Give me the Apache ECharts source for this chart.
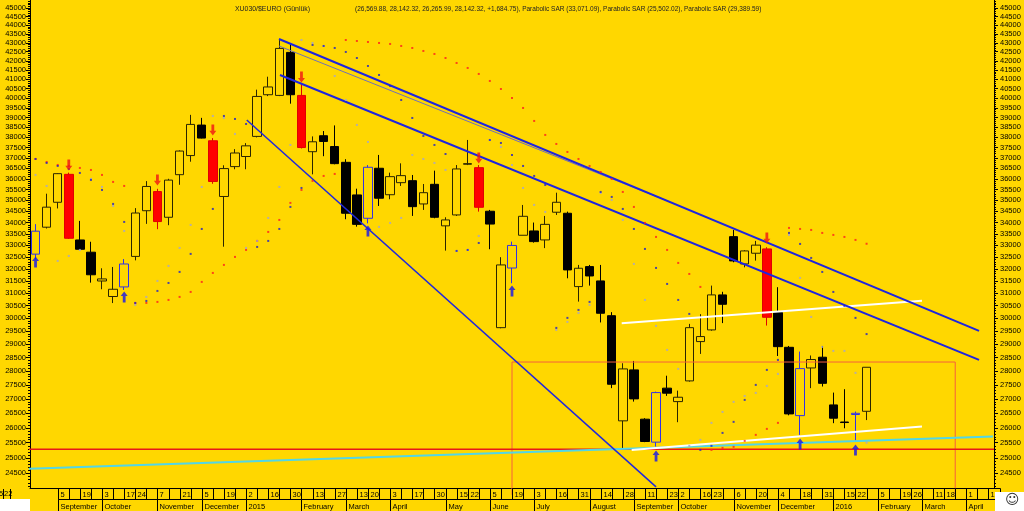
<!DOCTYPE html>
<html><head><meta charset="utf-8">
<script src="https://cdn.jsdelivr.net/npm/echarts@6/dist/echarts.min.js"></script>
<style>html,body{margin:0;padding:0;background:#FFD700;}#c{width:1024px;height:511px;}</style>
</head><body><div id="c"></div>
<script>
// ---------- data ----------
const weeks = ['2014-08-22','2014-08-29','2014-09-05','2014-09-12','2014-09-19','2014-09-26','2014-10-03','2014-10-10','2014-10-17','2014-10-24','2014-10-31','2014-11-07','2014-11-14','2014-11-21','2014-11-28','2014-12-05','2014-12-12','2014-12-19','2014-12-26',
'2015-01-02','2015-01-09','2015-01-16','2015-01-23','2015-01-30','2015-02-06','2015-02-13','2015-02-20','2015-02-27','2015-03-06','2015-03-13','2015-03-20','2015-03-27','2015-04-03','2015-04-10','2015-04-17','2015-04-24','2015-04-30','2015-05-08','2015-05-15','2015-05-22','2015-05-29','2015-06-05','2015-06-12','2015-06-19','2015-06-26','2015-07-03','2015-07-10','2015-07-16','2015-07-24','2015-07-31','2015-08-07','2015-08-14','2015-08-21','2015-08-28','2015-09-04','2015-09-11','2015-09-18','2015-09-23','2015-10-02','2015-10-09','2015-10-16','2015-10-23','2015-10-30','2015-11-06','2015-11-13','2015-11-20','2015-11-27','2015-12-04','2015-12-11','2015-12-18','2015-12-25','2015-12-31',
'2016-01-08','2016-01-15','2016-01-22','2016-01-29','2016-02-05','2016-02-12','2016-02-19','2016-02-26','2016-03-04','2016-03-11','2016-03-18','2016-03-25','2016-04-01','2016-04-08','2016-04-15'];

const open = [32625,33794,34912,36210,33235,32708,31500,30868,31257,32528,
 34529,35403,34235,36194,37109,38617,37833,35177,36578,37063,
 38050,40179,40143,42463,40143,37297,38083,37550,36783,35249,
 34190,36499,35258,35818,35912,34836,35741,33853,34340,36690,
 36527,34506,29637,32039,33440,33629,33236,34461,34415,31271,
 32098,31503,30104,26240,28046,26297,25520,27385,26908,27646,
 29103,29550,30933,33380,32210,32663,32848,30227,28886,26420,
 28117,28515,26792,26200,26500,26569.88];
const close = [33618,34690,36242,33309,32833,31757,31586,31162,32208,34426,
 35641,34044,35938,37328,38650,37966,35875,36484,37234,37583,
 40089,40589,42685,40179,37500,37783,37800,36719,34415,33919,
 36546,35097,36101,36149,34713,35352,34235,34116,36466,36720,
 34685,33932,32168,32997,34278,33163,33919,34912,31959,32029,
 31708,30200,27525,28082,27004,25541,27227,27206,27062,29637,
 29295,30933,30556,32337,32762,33011,30042,28911,26479,28093,
 28428,27558,26331,26182,26458,28142.32];
const low = [32390,33735,34632,33280,32806,31432,31162,30605,31135,32361,
 33941,33706,33882,35719,36812,37950,35766,32944,36452,36452,
 38000,40107,40107,39712,37453,36210,37078,36688,34147,33817,
 33963,34744,35050,35665,34295,34565,34190,32775,34295,36650,
 34488,32835,29614,31407,33440,33120,32883,34340,31612,30663,
 31311,29840,27385,25263,26908,25520,25372,27110,26194,27620,
 28637,29520,29814,32280,32068,32350,29718,28560,26430,25763,
 27385,27444,26160,25986,25541,26265.99];
const high = [33930,35306,36258,36290,34074,33157,32028,32083,32417,34647,
 35891,35531,36000,37359,39136,38983,37966,36641,37422,37717,
 40446,41136,43150,42926,40732,38050,38317,38600,36931,35538,
 36652,37140,36289,36734,36180,35756,36385,34235,36652,37873,
 36652,34565,32495,33163,34790,34000,34295,35352,34488,32168,
 32168,32168,30244,28291,28376,26330,27260,27834,27297,29784,
 30165,31311,31060,33673,32792,33194,32920,31246,28937,28725,
 28579,28937,27227,27347,26560,28142.32];

const sarRed = [36945,36800,36657,36609,36514,36418,36182,35853,35666,30600,
 30611,30651,30731,30852,31054,31462,31834,32169,32507,32805,
 33193,33586,34116,34883,35479,35899,36135,36229,43158,43102,
 43046,42990,42934,42822,42710,42543,42377,42155,41881,41609,
 41285,40908,40482,40010,39490,38826,38123,37677,37285,36945,
 36609,36323,35993,35387,34701,33983,33367,32805,32253,31792,
 31258,25263,25329,25363,25562,25764,25966,26171,33762,33717,
 33673,33542,33455,33367,33236,33071.09];
const sarGrey = [36182,35666,32337,32548,32805,35993,35619,34746,33629,30532,
 30852,31503,32127,32891,33894,35619,39080,38978,38172,32891,
 33193,34206,35619,37627,43158,42990,42822,41176,39905,38624,
 37775,33806,33983,34206,37137,36945,36753,36418,32762,32805,
 33410,37873,37529,36657,35572,34792,34475,29550,29861,30213,
 30532,35339,35019,34116,32211,30731,29705,28788,28083,25396,
 25596,26171,26548,26898,27107,27215,27466,27900,33455,31627,
 30056,28901,28751,28751,27937,25502.02];
const sarBlue = [36945,36753,36609,36466,36276,35946,35479,34837,34027,30611,
 30691,31094,31420,31876,32635,33717,34610,39080,38927,38673,
 32934,33193,33717,34701,35572,42878,42822,42710,42488,42155,
 41717,41230,40642,39905,38978,38073,37627,37186,32762,32805,
 33105,37873,37725,37137,36609,36135,35712,29628,30018,30332,
 30651,35387,35157,34610,33717,32848,32043,31380,30731,30175,
 25263,25396,25830,26205,26968,27502,28046,28415,33542,33063,
 32464,31876,31054,30492,30018,29389.59];

const redCandles = [3,11,16,24,40,66];
const blueCandles = [0,8,30,43,56,69,74];
const upArrows = [[0,32295],[8,30852],[30,33629],[43,31094],[56,25066],[69,25462],[74,25263]];
const downArrows = [[3,36657],[11,35946],[16,38372],[24,41122],[40,36994],[66,33323]];

// trend lines: [week index, price]
const topLine = [[21.97,43215],[85.15,29511]];
const greyLine = [[21.97,42821],[57.26,34927]];
const midLine = [[22.06,41230],[85.15,28415]];
const steepLine = [[19.06,38876],[56.0,24072]];
const whiteUpper = [[52.9,29810],[80.0,30695]];
const whiteLower = [[53.8,25263],[80.0,26045]];
const cyanLine = [[-3.21,24620],[86.4,25710]];
const redLine = [[-3.21,25285],[86.5,25285]];
const boxLine = [[43,23820],[43,28336],[83,28336],[83,23820]];

const yTickLabels = [45000,44500,44000,43500,43000,42500,42000,41500,41000,40500,40000,39500,39000,38500,38000,37500,37000,36500,36000,35500,35000,34500,34000,33500,33000,32500,32000,31500,31000,30500,30000,29500,29000,28500,28000,27500,27000,26500,26000,25500,25000,24500];
const dayLabels = [[2,'5'],[4,'19'],[6,'3'],[8,'17'],[9,'24'],[11,'7'],[13,'21'],[15,'5'],[17,'19'],[19,'2'],[21,'16'],[23,'30'],[25,'13'],[27,'27'],[29,'13'],[30,'20'],[32,'3'],[34,'17'],[36,'30'],[38,'15'],[39,'22'],[41,'5'],[43,'19'],[45,'3'],[47,'16'],[49,'31'],[51,'14'],[53,'28'],[55,'11'],[57,'23'],[58,'2'],[60,'16'],[61,'23'],[63,'6'],[65,'20'],[67,'4'],[69,'18'],[71,'31'],[73,'15'],[74,'22'],[76,'5'],[78,'19'],[79,'26'],[81,'11'],[82,'18'],[84,'1'],[86,'15']];
const monthLabels = [[2,6,'September'],[6,11,'October'],[11,15,'November'],[15,19,'December'],[19,24,'2015'],[24,28,'February'],[28,32,'March'],[32,37,'April'],[37,41,'May'],[41,45,'June'],[45,50,'July'],[50,54,'August'],[54,58,'September'],[58,63,'October'],[63,67,'November'],[67,72,'December'],[72,76,'2016'],[76,80,'February'],[80,84,'March'],[84,88,'April']];

const titleMain = 'XU030/$EURO (Günlük)';
const titleInfo = '(26,569.88, 28,142.32, 26,265.99, 28,142.32, +1,684.75), Parabolic SAR (33,071.09), Parabolic SAR (25,502.02), Parabolic SAR (29,389.59)';

const yMinPrice = 24036, yMaxPrice = 45472;

// ---------- chart ----------
const L = Math.log;
const FONT = 'Liberation Sans';
const BG = '#FFD700';
const chart = echarts.init(document.getElementById('c'), null, {renderer:'canvas', width:1024, height:511});

const candleData = open.map((o,i)=>{
  const item = {value:[L(o), L(close[i]), L(low[i]), L(high[i])]};
  if (redCandles.includes(i)) item.itemStyle = {color:'#FF0000', color0:'#FF0000', borderColor:'#E00000', borderColor0:'#E00000'};
  else if (blueCandles.includes(i)) item.itemStyle = {color:BG, color0:BG, borderColor:'#3232E6', borderColor0:'#3232E6'};
  return item;
});

const majorLn = yTickLabels.map(L);
const minorLn = [];
for (let v = 24100; v <= 45400; v += 100) minorLn.push(L(v));

function yAx(pos, major) {
  return {
    type:'value', position:pos, min:L(yMinPrice), max:L(yMaxPrice), offset:0,
    axisLine:{show:true, onZero:false, lineStyle:{color:'#000', width:1}},
    axisTick:{show:true, customValues: major ? majorLn : minorLn, length: major ? 4 : 2, lineStyle:{color:'#000', width:1}},
    axisLabel:{show:major, customValues:majorLn, formatter:v=>String(Math.round(Math.exp(v))),
      fontSize:7.5, color:'#000', fontFamily:FONT, margin: pos==='left' ? 4 : 6},
    splitLine:{show:false}
  };
}

function lineS(pts, color, width, noClip, z) {
  return {type:'line', xAxisIndex:1, yAxisIndex:0, data:pts.map(p=>[p[0], L(p[1])]),
    symbol:'none', silent:true, clip: !noClip, z: z || 4,
    lineStyle:{color, width}};
}
function sarS(arr, color) {
  return {type:'scatter', xAxisIndex:1, yAxisIndex:0, data:arr.map((v,i)=>[i, L(v)]),
    symbol:'rect', symbolSize:2, silent:true, z:5, itemStyle:{color}};
}

const cells = [];
dayLabels.forEach(d=>cells.push({i:d[0], n:1, row:0, t:d[1]}));
monthLabels.forEach(m=>cells.push({i:m[0], n:m[1]-m[0], row:1, t:m[2]}));

const upPath = 'path://M5,0 L10,5 L7,5 L7,12 L3,12 L3,5 L0,5 Z';
const downPath = 'path://M3,0 L7,0 L7,7 L10,7 L5,12 L0,7 L3,7 Z';

chart.setOption({
  animation:false,
  backgroundColor:BG,
  title:[
    {text:titleMain, left:230, top:1, textStyle:{fontSize:6.9, fontWeight:'normal', color:'#222', fontFamily:FONT}},
    {text:titleInfo, left:350, top:1, textStyle:{fontSize:6.5, fontWeight:'normal', color:'#222', fontFamily:FONT}}
  ],
  grid:{left:30, right:30, top:0, bottom:23, containLabel:false},
  xAxis:[
    {type:'category', data:weeks, boundaryGap:true, axisLine:{show:true, lineStyle:{color:'#000'}}, axisTick:{show:false}, axisLabel:{show:false}, splitLine:{show:false}},
    {type:'value', min:-0.5, max:86.5, show:false}
  ],
  yAxis:[yAx('left',true), yAx('left',false), yAx('right',true), yAx('right',false)],
  series:[
    {type:'candlestick', xAxisIndex:0, yAxisIndex:0, data:candleData, barWidth:9, z:2, silent:true,
      itemStyle:{color:BG, color0:'#000000', borderColor:'#2a2500', borderColor0:'#000000', borderWidth:1}},
    lineS(boxLine, '#F5603C', 1, true, 3),
    lineS(redLine, '#E81818', 1.5, true),
    lineS(cyanLine, '#52D6E6', 2, true),
    lineS(whiteUpper, '#FFFFFF', 2),
    lineS(whiteLower, '#FFFFFF', 2),
    lineS(steepLine, '#2028DC', 1.5),
    lineS(greyLine, '#7070B8', 1),
    lineS(topLine, '#1E24E0', 2),
    lineS(midLine, '#1E24E0', 2),
    sarS(sarRed, '#FF1E1E'),
    sarS(sarGrey, '#A4A4D0'),
    sarS(sarBlue, '#2020C8'),
    {type:'scatter', xAxisIndex:1, yAxisIndex:0, data:upArrows.map(a=>[a[0], L(a[1])]), symbol:upPath, symbolSize:[7,11], silent:true, z:7, itemStyle:{color:'#1414F0'}},
    {type:'scatter', xAxisIndex:1, yAxisIndex:0, data:downArrows.map(a=>[a[0], L(a[1])]), symbol:downPath, symbolSize:[7,11], silent:true, z:7, itemStyle:{color:'#F01414'}},
    {type:'custom', xAxisIndex:1, yAxisIndex:0, clip:false, silent:true, z:10,
      data:cells.map(c=>[c.i, L(yMinPrice)]),
      renderItem:function(params, api){
        const c = cells[params.dataIndex];
        const p0 = api.coord([c.i, L(yMinPrice)]);
        const p1 = api.coord([c.i + c.n, L(yMinPrice)]);
        const gb = Math.round(p0[1]);
        const y = c.row === 0 ? gb : gb + 11;
        const h = c.row === 0 ? 11 : 13;
        const x0 = Math.round(p0[0]) + 0.5, x1 = Math.round(p1[0]) + 0.5;
        return {type:'group', children:[
          {type:'rect', shape:{x:x0, y:y + 0.5, width:x1 - x0, height:h}, style:{fill:'transparent', stroke:'#000', lineWidth:1}},
          {type:'text', x:x0 + 2, y:y + h/2 + 1, style:{text:c.t, fontSize:7.5, fontFamily:FONT, fill:'#000', verticalAlign:'middle', align:'left'}}
        ]};
      }
    }
  ],
  graphic:[
    {type:'rect', left:0, top:499, shape:{width:30, height:12}, style:{fill:'#FFFFFF'}, z:100},
    {type:'rect', left:995, top:492, shape:{width:29, height:19}, style:{fill:'#FFFFFF'}, z:100},
    {type:'text', left:1005, top:493, style:{text:'☺', fontSize:14, fontFamily:'DejaVu Sans', fill:'#333'}, z:101},
    {type:'text', left:-1, top:490, style:{text:'5', fontSize:7.5, fontFamily:FONT, fill:'#000'}, z:101},
    {type:'text', left:4, top:490, style:{text:'22', fontSize:7.5, fontFamily:FONT, fill:'#000'}, z:101},
    {type:'line', shape:{x1:3.5, y1:489, x2:3.5, y2:499}, style:{stroke:'#000', lineWidth:1}, z:101},
    {type:'line', shape:{x1:10.5, y1:489, x2:10.5, y2:499}, style:{stroke:'#000', lineWidth:1}, z:101}
  ]
});
</script>
</body></html>
